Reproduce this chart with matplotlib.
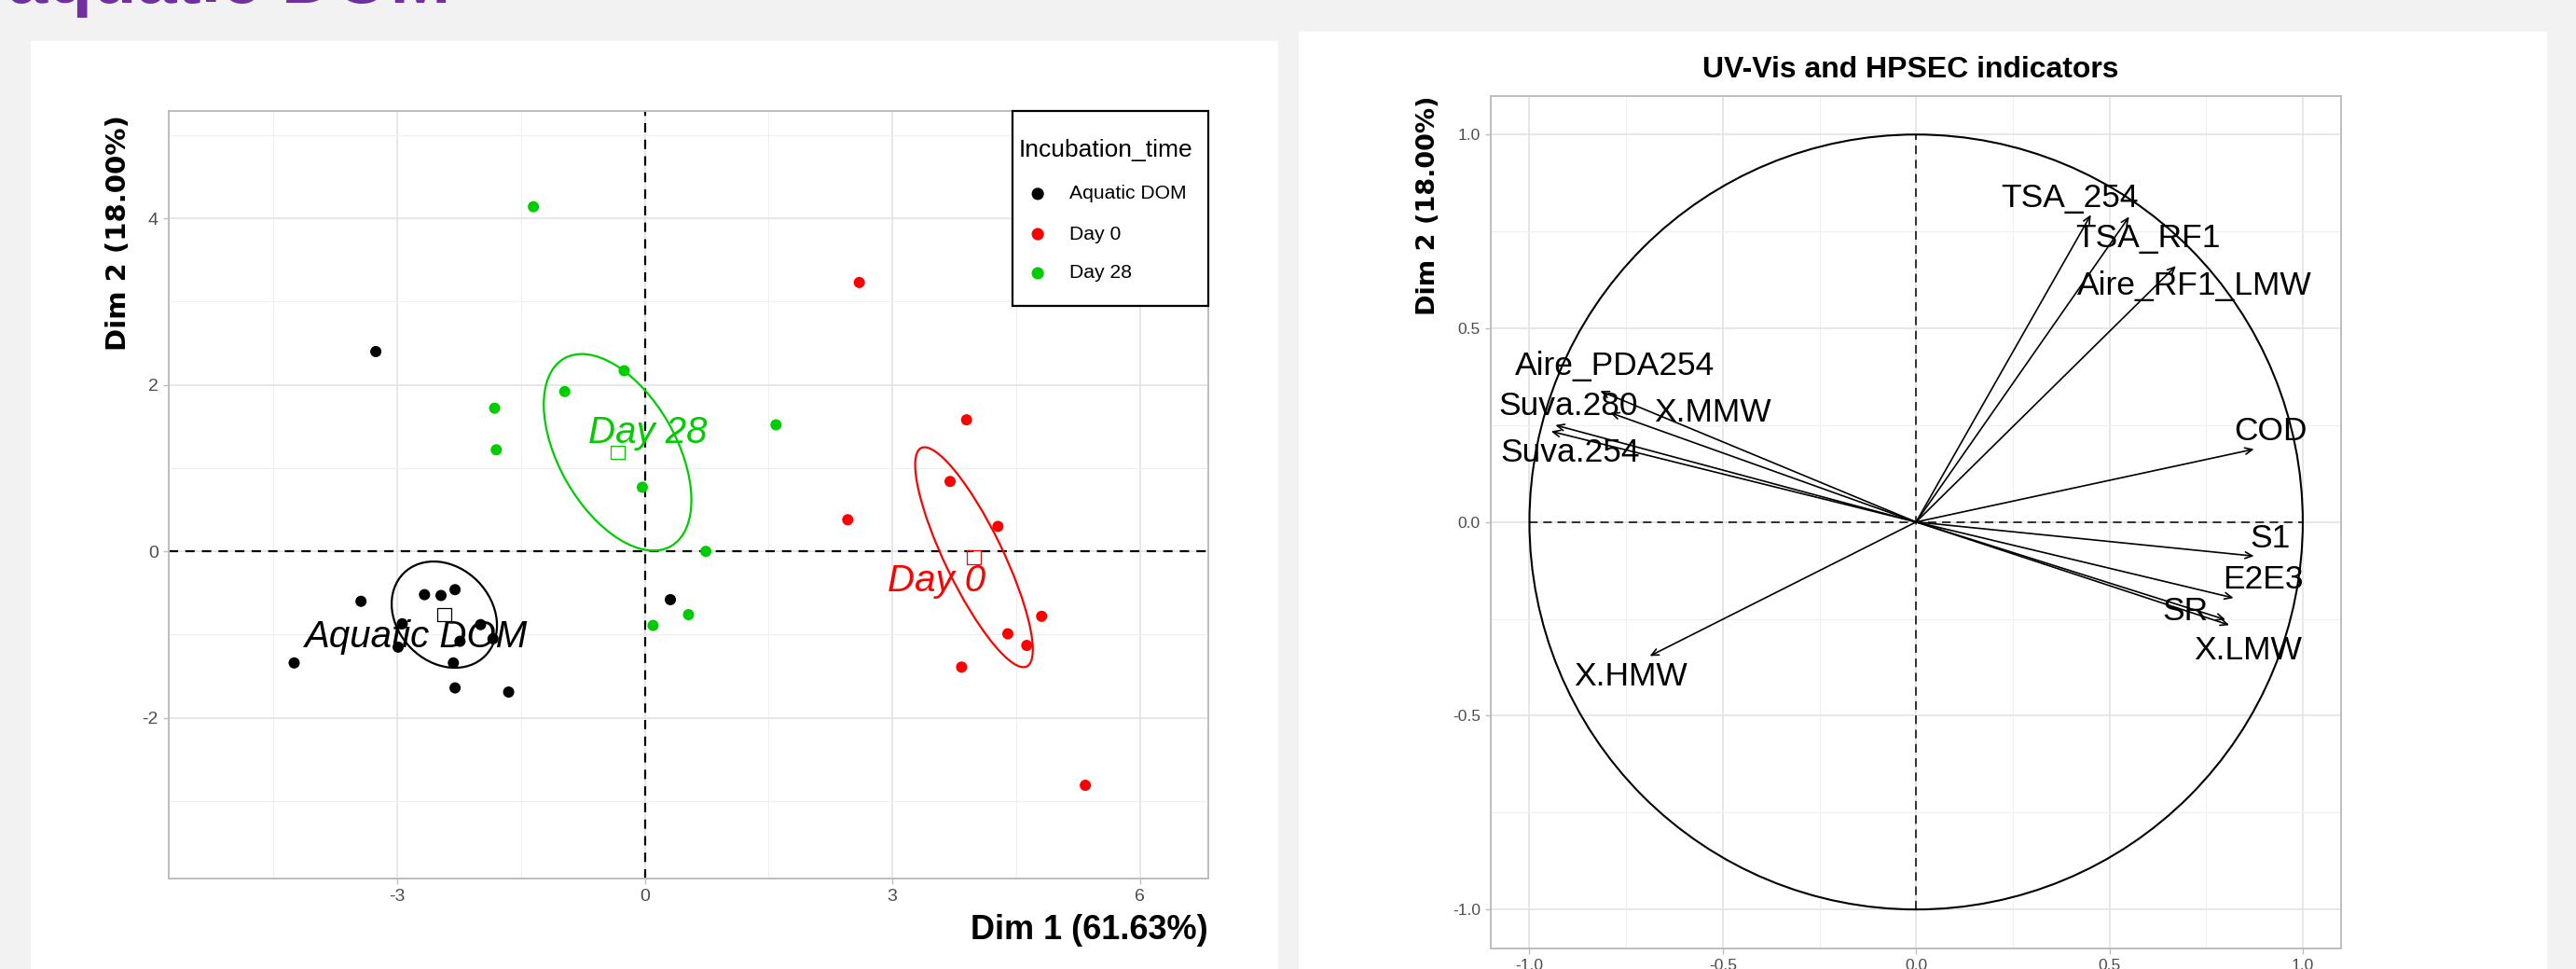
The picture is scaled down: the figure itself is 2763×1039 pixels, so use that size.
import matplotlib.pyplot as plt
import numpy as np
from matplotlib.patches import Ellipse, Rectangle, Circle

plt.rcParams['axes.unicode_minus'] = False

W, H = 2763, 1039

# ---- individuals map (Dim 1 / Dim 2) ----
aq_x = [-3.26, -3.44, -4.25, -2.94, -2.99, -2.67, -2.47, -2.30, -2.24, -1.99, -1.84, -2.32, -2.30, -1.65, 0.31]
aq_y = [2.40, -0.60, -1.34, -0.87, -1.15, -0.52, -0.53, -0.46, -1.08, -0.88, -1.05, -1.34, -1.64, -1.69, -0.58]
d0_x = [2.60, 3.90, 3.70, 2.46, 4.28, 4.81, 4.40, 4.63, 3.84, 5.34]
d0_y = [3.23, 1.58, 0.84, 0.38, 0.30, -0.78, -0.99, -1.13, -1.39, -2.81]
d28_x = [-1.35, -0.25, -0.97, -1.82, -1.80, 1.59, -0.03, 0.74, 0.53, 0.10]
d28_y = [4.14, 2.17, 1.92, 1.72, 1.22, 1.52, 0.77, 0.00, -0.76, -0.89]

groups = ['Aquatic DOM', 'Day 0', 'Day 28']
colors = ['black', '#FF0000', '#00CD00']
centre_x = [-2.43, 3.99, -0.33]
centre_y = [-0.76, -0.07, 1.19]
# confidence ellipses: semi axes + angle (deg)
ell_a = [0.70, 1.46, 1.30]
ell_b = [0.57, 0.35, 0.71]
ell_ang = [-45, -64, -60]
lab_x = [-2.77, 3.54, 0.04]
lab_y = [-1.03, -0.36, 1.43]

# ---- variables (correlation circle) ----
var_names = ['TSA_254', 'TSA_RF1', 'Aire_RF1_LMW', 'COD', 'S1', 'E2E3', 'SR', 'X.LMW',
             'X.HMW', 'Aire_PDA254', 'Suva.280', 'X.MMW', 'Suva.254']
var_x = [0.452, 0.551, 0.672, 0.874, 0.874, 0.821, 0.800, 0.810, -0.689, -0.817, -0.933, -0.791, -0.944]
var_y = [0.793, 0.788, 0.661, 0.188, -0.088, -0.196, -0.252, -0.266, -0.346, 0.338, 0.250, 0.282, 0.234]
vlab_x = [0.397, 0.600, 0.721, 0.918, 0.916, 0.897, 0.696, 0.859, -0.738, -0.778, -0.900, -0.526, -0.895]
vlab_y = [0.836, 0.732, 0.610, 0.234, -0.043, -0.148, -0.231, -0.331, -0.398, 0.403, 0.300, 0.283, 0.178]

FONT = 'Liberation Sans'
WIDE = 'DejaVu Sans'
GRID = '#e3e3e3'
BORDER = '#bdbdbd'
TICKC = '#4d4d4d'

fig = plt.figure(figsize=(W / 100, H / 100), dpi=100, facecolor='#f2f2f2')


def box(x0, y0, x1, y1):
    # pixel box (top-left origin) -> figure fraction
    return [x0 / W, 1 - y1 / H, (x1 - x0) / W, (y1 - y0) / H]


fig.add_artist(Rectangle((33 / W, 0), (1371 - 33) / W, 1 - 44 / H, transform=fig.transFigure,
                         facecolor='white', edgecolor='none', zorder=0))
fig.add_artist(Rectangle((1393 / W, 0), (2732 - 1393) / W, 1 - 34 / H, transform=fig.transFigure,
                         facecolor='white', edgecolor='none', zorder=0))
# page heading, cut off at the top edge
fig.text(8 / W, 1 - 3 / H, 'aquatic DOM', color='#7030A0', fontsize=56, weight='bold',
         family=FONT, va='baseline', ha='left')


def style(ax):
    for s in ax.spines.values():
        s.set_color(BORDER)
        s.set_linewidth(1.4)
    ax.tick_params(which='major', color=BORDER, length=4, width=1, labelcolor=TICKC, pad=4)
    ax.tick_params(which='minor', length=0)
    for lab in ax.get_xticklabels() + ax.get_yticklabels():
        lab.set_family(FONT)
    ax.grid(which='major', color=GRID, lw=1.2)
    ax.grid(which='minor', color='#efefef', lw=0.8)
    ax.set_axisbelow(True)


# ---------------- left: individuals ----------------
ax = fig.add_axes(box(181, 119, 1296, 942))
ax.set_xlim(-5.77, 6.83)
ax.set_ylim(-3.93, 5.29)
ax.set_xticks([-3, 0, 3, 6])
ax.set_yticks([-2, 0, 2, 4])
ax.set_xticks([-4.5, -1.5, 1.5, 4.5], minor=True)
ax.set_yticks([-3, -1, 1, 3, 5], minor=True)
ax.tick_params(labelsize=14)
style(ax)

ax.axhline(0, color='black', lw=1.6, ls=(0, (4.5, 3.5)), zorder=2)
ax.axvline(0, color='black', lw=1.6, ls=(0, (4.5, 3.5)), zorder=2)

pts = [(aq_x, aq_y), (d0_x, d0_y), (d28_x, d28_y)]
for i, g in enumerate(groups):
    ax.scatter(pts[i][0], pts[i][1], s=75, color=colors[i], edgecolor='none', zorder=3)
    ax.add_patch(Ellipse((centre_x[i], centre_y[i]), 2 * ell_a[i], 2 * ell_b[i], angle=ell_ang[i],
                         fill=False, edgecolor=colors[i], lw=1.6, zorder=3))
    ax.scatter([centre_x[i]], [centre_y[i]], marker='s', s=110, facecolor='none',
               edgecolor=colors[i], lw=0.9, zorder=4)
    ax.text(lab_x[i], lab_y[i], g, color=colors[i], fontsize=29, style='italic', family=FONT,
            ha='center', va='center', zorder=5)

# legend (drawn by hand, ggplot-like spacing)
ax.add_patch(Rectangle((0.8117, 0.746), 1 - 0.8117, 1 - 0.746, transform=ax.transAxes,
                       facecolor='white', edgecolor='black', lw=1.6, zorder=6, clip_on=False))
ax.text(0.818, 0.949, 'Incubation_time', transform=ax.transAxes, ha='left', va='center',
        fontsize=19, family=FONT, zorder=7)
leg_y = [0.892, 0.8396, 0.7886]
for i, g in enumerate(groups):
    ax.scatter([0.836], [leg_y[i]], s=90, color=colors[i], edgecolor='none',
               transform=ax.transAxes, zorder=7, clip_on=False)
    ax.text(0.866, leg_y[i], g, transform=ax.transAxes, ha='left', va='center',
            fontsize=15.2, family=FONT, zorder=7)

ax.text(1.0, -0.067, 'Dim 1 (61.63%)', transform=ax.transAxes, ha='right', va='center',
        fontsize=26, weight='bold', family=FONT)
ax.text(-0.048, 0.995, 'Dim 2 (18.00%)', transform=ax.transAxes, ha='center', va='top',
        rotation=90, fontsize=21, weight='bold', family=WIDE)

# ---------------- right: variables ----------------
bx = fig.add_axes(box(1599, 102.7, 2511.4, 1016.7))
bx.set_xlim(-1.1, 1.1)
bx.set_ylim(-1.1, 1.1)
bx.set_xticks([-1, -0.5, 0, 0.5, 1])
bx.set_yticks([-1, -0.5, 0, 0.5, 1])
bx.set_xticks([-0.75, -0.25, 0.25, 0.75], minor=True)
bx.set_yticks([-0.75, -0.25, 0.25, 0.75], minor=True)
bx.set_xticklabels(['-1.0', '-0.5', '0.0', '0.5', '1.0'])
bx.set_yticklabels(['-1.0', '-0.5', '0.0', '0.5', '1.0'])
bx.tick_params(labelsize=12.5)
style(bx)

bx.add_patch(Circle((0, 0), 1, fill=False, edgecolor='black', lw=1.5, zorder=2))
bx.plot([-1, 1], [0, 0], color='black', lw=1.1, ls=(0, (6, 4)), zorder=2)
bx.plot([0, 0], [-1, 1], color='black', lw=1.1, ls=(0, (6, 4)), zorder=2)

for i, n in enumerate(var_names):
    bx.annotate('', xy=(var_x[i], var_y[i]), xytext=(0, 0),
                arrowprops=dict(arrowstyle='->,head_length=0.55,head_width=0.25', color='black',
                                lw=1.2, shrinkA=0, shrinkB=0), zorder=3)
    bx.text(vlab_x[i], vlab_y[i], n, fontsize=25.5, family=FONT, ha='center', va='center', zorder=4)

bx.text(0.494, 1.03, 'UV-Vis and HPSEC indicators', transform=bx.transAxes, ha='center',
        va='center', fontsize=23, weight='bold', family=FONT)
bx.text(-0.073, 1.0, 'Dim 2 (18.00%)', transform=bx.transAxes, ha='center', va='top',
        rotation=90, fontsize=19.5, weight='bold', family=WIDE)

fig.savefig('out.png', dpi=100, facecolor=fig.get_facecolor())
